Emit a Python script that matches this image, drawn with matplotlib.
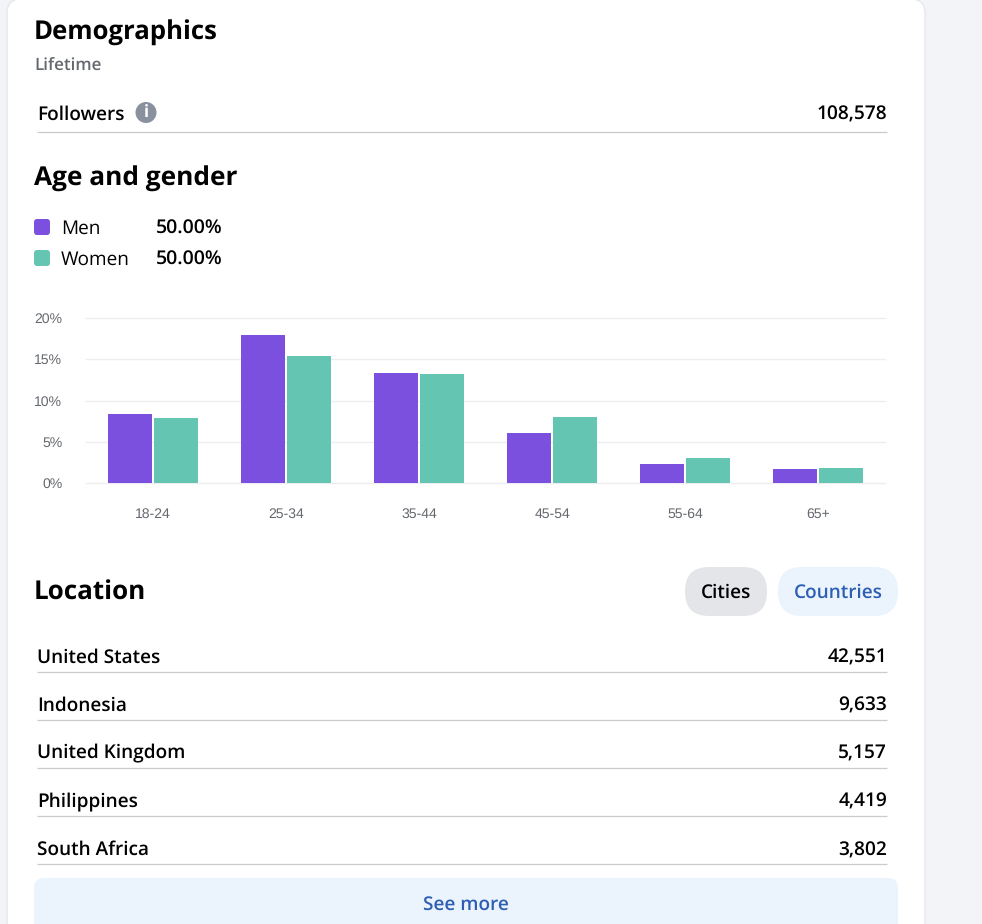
import matplotlib
matplotlib.use('Agg')
import matplotlib.pyplot as plt
from matplotlib.patches import FancyBboxPatch, Circle

plt.rcParams['text.hinting'] = 'no_hinting'

# chart data
AGE_GROUPS = ['18-24', '25-34', '35-44', '45-54', '55-64', '65+']
MEN = [8.4, 17.95, 13.3, 6.05, 2.25, 1.75]
WOMEN = [7.9, 15.4, 13.2, 8.05, 3.05, 1.85]
Y_TICKS = [0, 5, 10, 15, 20]
Y_LABELS = ['0%', '5%', '10%', '15%', '20%']

LEGEND_NAMES = ['Men', 'Women']
LEGEND_SHARES = ['50.00%', '50.00%']

COUNTRIES = ['United States', 'Indonesia', 'United Kingdom', 'Philippines', 'South Africa']
FOLLOWERS = ['42,551', '9,633', '5,157', '4,419', '3,802']
FOLLOWER_TOTAL = '108,578'

PURPLE = '#7b50de'
TEAL = '#65c5b3'
PAGE = '#f2f4f8'
LINE = '#c8cacd'
BLUE = '#2c5fb3'
PALE_BLUE = '#ebf3fd'
FONT = 'Open Sans'

W, H = 982, 924


def px_text(ax, x, y, s, size, weight='normal', color='black', ha='left'):
    # size is in css pixels, figure is 100 dpi
    ax.text(x, y + 2.5, s, fontsize=size * 0.72, fontweight=weight, color=color,
            ha=ha, va='center', family=FONT)


def rounded(ax, x0, y0, x1, y1, r, color, zorder=1, ec='none'):
    ax.add_patch(FancyBboxPatch((x0 + r, y0 + r), x1 - x0 - 2 * r, y1 - y0 - 2 * r,
                                boxstyle='round,pad=%s,rounding_size=%s' % (r, r),
                                fc=color, ec=ec, lw=1, zorder=zorder))


def hline(ax, y):
    ax.plot([37, 887], [y, y], color=LINE, lw=0.9, solid_capstyle='butt')


def draw_page(ax):
    ax.set_xlim(0, W)
    ax.set_ylim(H, 0)
    ax.axis('off')
    rounded(ax, 7, -1, 925, H + 40, 14, 'white', ec='#e6e8ec')

    px_text(ax, 34, 31, 'Demographics', 25.7, 'bold')
    px_text(ax, 34, 63, 'Lifetime', 17, 'semibold', '#65686e')

    px_text(ax, 37, 112, 'Followers', 19, 'semibold')
    ax.add_patch(Circle((146, 112.5), 10.5, fc='#8a919e', ec='none'))
    ax.text(146, 113, 'i', fontsize=12, fontweight='bold', color='white',
            ha='center', va='center', family=FONT)
    px_text(ax, 887, 112, FOLLOWER_TOTAL, 19.2, 'semibold', ha='right')
    hline(ax, 131.5)

    px_text(ax, 34, 176, 'Age and gender', 26.2, 'bold')

    for y, name, share, color in zip([227, 258], LEGEND_NAMES, LEGEND_SHARES, [PURPLE, TEAL]):
        rounded(ax, 34, y - 8, 50, y + 8, 3, color)
        px_text(ax, 61, y - 0.5, name, 19)
        px_text(ax, 156, y - 0.5, share, 19.5, 'semibold')

    px_text(ax, 34, 591, 'Location', 26, 'bold')
    rounded(ax, 685, 567, 767, 616, 24, '#e3e5e9')
    px_text(ax, 726, 590, 'Cities', 19, 'semibold', ha='center')
    rounded(ax, 778, 567, 898, 616, 24, PALE_BLUE)
    px_text(ax, 838, 590, 'Countries', 19, 'semibold', BLUE, ha='center')

    row = 0
    for country, count in zip(COUNTRIES, FOLLOWERS):
        y = 655 + row * 48.2
        px_text(ax, 37, y, country, 19, 'semibold')
        px_text(ax, 887, y, count, 19.2, 'semibold', ha='right')
        hline(ax, y + 16.5)
        row += 1

    rounded(ax, 34, 878, 898, H + 30, 10, PALE_BLUE)
    px_text(ax, 466, 902.5, 'See more', 19, 'semibold', BLUE, ha='center')


def draw_chart(fig):
    # axes box matches the grid lines: x 86-885, y 318-483 in pixels
    ax = fig.add_axes([86 / W, 1 - 483 / H, 799 / W, 165 / H])
    ax.patch.set_alpha(0)
    positions = range(len(AGE_GROUPS))
    bar_w = 44 / (799 / 6)
    step = 46 / (799 / 6)
    ax.bar([p - step / 2 for p in positions], MEN, bar_w, color=PURPLE, zorder=2)
    ax.bar([p + step / 2 for p in positions], WOMEN, bar_w, color=TEAL, zorder=2)
    ax.set_xlim(-0.5, 5.5)
    ax.set_ylim(0, 20)
    ax.set_yticks(Y_TICKS)
    ax.set_yticklabels(Y_LABELS)
    ax.set_xticks(list(positions))
    ax.set_xticklabels(AGE_GROUPS)
    ax.grid(axis='y', color='#eceef1', lw=1, zorder=0)
    ax.tick_params(length=0, labelsize=10.1, labelcolor='#65686e')
    ax.tick_params(axis='x', pad=17.5)
    ax.tick_params(axis='y', pad=17)
    for label in ax.get_xticklabels() + ax.get_yticklabels():
        label.set_family('Liberation Sans')
    for spine in ax.spines.values():
        spine.set_visible(False)
    for gridline in ax.get_ygridlines():
        gridline.set_clip_on(False)


def main():
    fig = plt.figure(figsize=(W / 100, H / 100), dpi=100, facecolor=PAGE)
    page = fig.add_axes([0, 0, 1, 1])
    draw_page(page)
    draw_chart(fig)
    fig.savefig('out.png', dpi=100, facecolor=PAGE)


if __name__ == '__main__':
    main()
